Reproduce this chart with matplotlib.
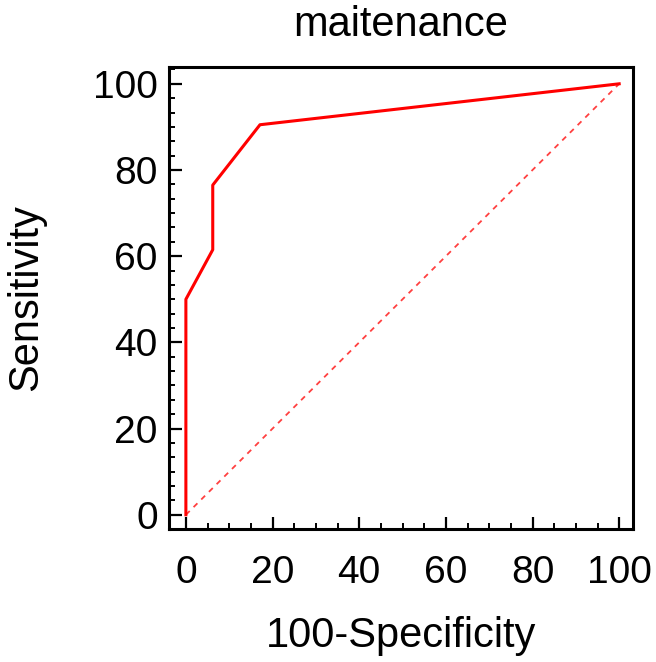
import numpy as np
import matplotlib
matplotlib.use('Agg')
from matplotlib import pyplot as plt
from matplotlib.ticker import MultipleLocator

# ROC curve points
fpr = [0, 0, 6.2, 6.2, 17.1, 100]
tpr = [0, 50, 61.5, 76.5, 90.5, 100]
ref_line = [0, 100]

title = 'maitenance'
x_label = '100-Specificity'
y_label = 'Sensitivity'
ticks = [0, 20, 40, 60, 80, 100]

plt.rcParams['font.family'] = ['Liberation Sans', 'DejaVu Sans']

fig = plt.figure(figsize=(6.56, 6.62), dpi=100)
ax = fig.add_axes([0.2576, 0.2009, 0.7074, 0.6979])

ax.plot(ref_line, ref_line, color='#ff4040', lw=1.3, ls=(0, (3, 3)), zorder=2)
ax.plot(fpr, tpr, color='red', lw=2.2, zorder=3)

ax.set_xlim(-3.9, 103.2)
ax.set_ylim(-3.3, 103.9)
ax.set_xticks(ticks)
ax.set_yticks(ticks)
ax.xaxis.set_minor_locator(MultipleLocator(5))
ax.yaxis.set_minor_locator(MultipleLocator(20 / 6))
ax.tick_params(which='major', direction='in', length=9, width=1.6,
               labelsize=28, pad=8)
ax.tick_params(axis='x', which='major', pad=19)
ax.tick_params(which='minor', direction='in', length=4.5, width=1.4)
ax.tick_params(axis='y', which='both', right=False)
ax.tick_params(axis='x', which='both', top=False)

for sp in ax.spines.values():
    sp.set_linewidth(2.2)

ax.set_title(title, fontsize=30, pad=22)
ax.set_xlabel(x_label, fontsize=30, labelpad=18)
ax.set_ylabel(y_label, fontsize=30, labelpad=34)

plt.savefig('out.png', dpi=100)
plt.close()
